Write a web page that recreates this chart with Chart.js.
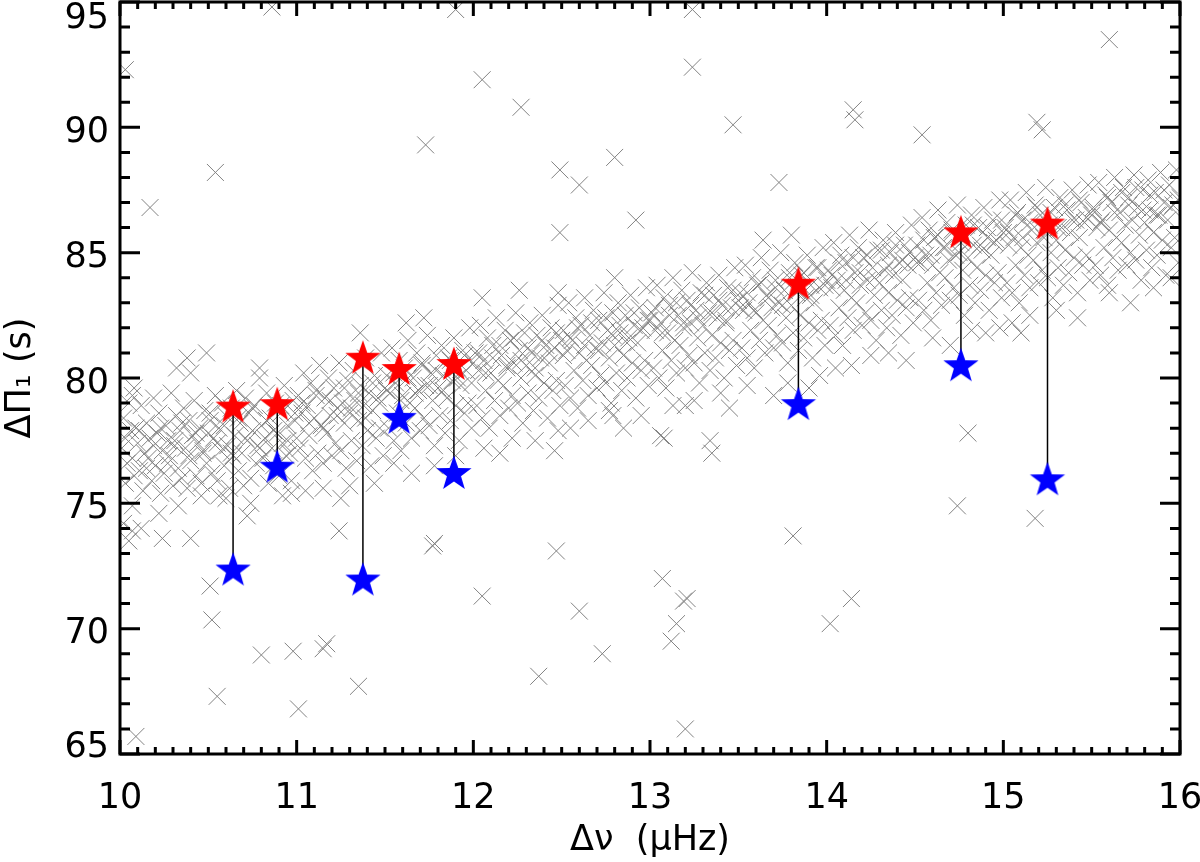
<!DOCTYPE html>
<html>
<head>
<meta charset="utf-8">
<script src="https://cdn.jsdelivr.net/npm/chart.js@4/dist/chart.umd.min.js"></script>
<style>
  body { margin: 0; background: #fff; }
</style>
</head>
<body>
<canvas id="periodChart" width="1200" height="862"></canvas>
<script>
// paired stars: same dnu, upper (red) and lower (blue) period spacing
const starDnu = [10.64, 10.89, 11.375, 11.58, 11.89, 13.84, 14.76, 15.25];
const upperPeriod = [78.9, 79.0, 80.85, 80.4, 80.6, 83.8, 85.85, 86.2];
const lowerPeriod = [72.4, 76.5, 72.0, 78.45, 76.25, 79.0, 80.55, 76.0];

const xTickLabels = [10, 11, 12, 13, 14, 15, 16];
const yTickLabels = [65, 70, 75, 80, 85, 90, 95];

// background sample, grey crosses [dnu, dPi1]
const bandLow = [
  [10.01,77.2],[10.02,78.4],[10.03,75.8],[10.04,76.6],[10.05,79.0],[10.06,77.9],[10.07,74.9],[10.08,76.1],[10.09,78.0],[10.10,77.4],
  [10.11,76.3],[10.12,78.9],[10.13,75.5],[10.14,77.0],[10.15,78.2],[10.16,76.8],[10.17,77.6],[10.18,75.9],[10.19,79.2],[10.20,76.5],
  [10.21,77.8],[10.22,78.6],[10.23,75.4],[10.24,77.1],[10.25,76.2],[10.26,78.1],[10.27,77.5],[10.28,76.9],[10.29,79.4],[10.30,75.7],
  [10.31,77.3],[10.32,78.5],[10.33,76.4],[10.34,77.9],[10.35,76.0],[10.36,78.8],[10.37,77.2],[10.38,75.6],[10.39,78.3],[10.40,76.7],
  [10.41,77.7],[10.42,79.1],[10.43,76.1],[10.44,77.4],[10.45,78.0],[10.46,75.8],[10.47,77.0],[10.48,78.7],[10.49,76.6],[10.50,77.8],
  [10.02,74.2],[10.05,73.5],[10.12,74.0],[10.08,79.6],[10.22,74.6],[10.33,74.9],[10.40,80.2],[10.46,75.3],
  [10.51,78.3],[10.52,76.2],[10.53,77.6],[10.54,79.3],[10.55,75.9],[10.56,78.0],[10.57,77.1],[10.58,79.0],[10.59,76.5],[10.60,78.5],
  [10.61,77.3],[10.62,75.6],[10.63,78.8],[10.64,76.9],[10.65,77.7],[10.66,79.5],[10.67,76.3],[10.68,78.2],[10.69,77.0],[10.70,75.7],
  [10.71,79.2],[10.72,77.5],[10.73,78.6],[10.74,76.0],[10.75,77.9],[10.76,78.9],[10.77,76.6],[10.78,77.3],[10.79,80.0],[10.80,78.1],
  [10.81,76.8],[10.82,77.6],[10.83,79.4],[10.84,75.8],[10.85,78.4],[10.86,77.2],[10.87,76.5],[10.88,79.0],[10.89,77.8],[10.90,76.1],
  [10.91,78.6],[10.92,77.4],[10.93,79.7],[10.94,76.9],[10.95,78.1],[10.96,77.0],[10.97,75.9],[10.98,79.1],[10.99,78.3],[11.00,77.6],
  [10.56,75.3],[10.60,75.2],[10.92,75.3],[10.97,75.4],
  [11.01,79.3],[11.02,77.2],[11.03,78.6],[11.04,80.2],[11.05,76.8],[11.06,78.9],[11.07,77.7],[11.08,79.8],[11.09,76.3],[11.10,78.4],
  [11.11,79.5],[11.12,77.0],[11.13,80.5],[11.14,78.1],[11.15,76.6],[11.16,79.2],[11.17,77.8],[11.18,80.0],[11.19,78.5],[11.20,76.9],
  [11.21,79.6],[11.22,77.4],[11.23,78.8],[11.24,80.6],[11.25,77.1],[11.26,79.0],[11.27,78.2],[11.28,76.4],[11.29,79.9],[11.30,78.6],
  [11.31,77.5],[11.32,80.3],[11.33,79.1],[11.34,76.7],[11.35,78.3],[11.36,79.7],[11.37,77.3],[11.38,78.9],[11.39,80.8],[11.40,77.9],
  [11.41,79.4],[11.42,76.5],[11.43,78.7],[11.44,80.1],[11.45,77.6],[11.46,79.2],[11.47,78.0],[11.48,81.0],[11.49,76.9],[11.50,79.6],
  [11.05,75.5],[11.15,75.6],[11.25,75.2],[11.44,75.8],[11.30,75.7],
  [11.51,80.1],[11.52,78.0],[11.53,79.4],[11.54,81.2],[11.55,77.5],[11.56,79.8],[11.57,78.6],[11.58,80.7],[11.59,77.1],[11.60,79.3],
  [11.61,80.4],[11.62,78.2],[11.63,81.5],[11.64,79.0],[11.65,77.6],[11.66,80.0],[11.67,78.8],[11.68,81.0],[11.69,79.5],[11.70,77.9],
  [11.71,80.6],[11.72,78.4],[11.73,79.7],[11.74,81.7],[11.75,78.1],[11.76,80.2],[11.77,79.1],[11.78,77.3],[11.79,80.9],[11.80,79.6],
  [11.81,78.5],[11.82,81.3],[11.83,80.1],[11.84,77.8],[11.85,79.2],[11.86,80.8],[11.87,78.3],[11.88,79.9],[11.89,81.6],[11.90,78.9],
  [11.91,80.4],[11.92,77.5],[11.93,79.7],[11.94,81.1],[11.95,78.6],[11.96,80.3],[11.97,79.0],[11.98,82.0],[11.99,78.0],[12.00,80.6],
  [11.55,76.6],[11.65,76.2],[11.78,76.5],[11.62,82.2],[11.90,76.9],[11.72,82.4]
];

const bandMid = [
  [12.01,81.0],[12.02,78.9],[12.03,80.3],[12.04,82.1],[12.05,78.4],[12.06,80.7],[12.07,79.5],[12.08,81.6],[12.09,78.0],[12.10,80.2],
  [12.11,81.3],[12.12,79.1],[12.13,82.4],[12.14,79.9],[12.15,78.5],[12.16,80.9],[12.17,79.7],[12.18,81.9],[12.19,80.4],[12.20,78.8],
  [12.21,81.5],[12.22,79.3],[12.23,80.6],[12.24,82.6],[12.25,79.0],[12.26,81.1],[12.27,80.0],[12.28,78.2],[12.29,81.8],[12.30,80.5],
  [12.31,79.4],[12.32,82.2],[12.33,81.0],[12.34,78.7],[12.35,80.1],[12.36,81.7],[12.37,79.2],[12.38,80.8],[12.39,82.5],[12.40,79.8],
  [12.41,81.3],[12.42,78.4],[12.43,80.6],[12.44,82.0],[12.45,79.5],[12.46,81.2],[12.47,79.9],[12.48,82.9],[12.49,78.9],[12.50,81.5],
  [12.06,77.2],[12.15,77.0],[12.22,77.6],[12.35,77.5],[12.46,77.1],[12.48,77.9],
  [12.51,81.9],[12.52,79.7],[12.53,81.1],[12.54,83.0],[12.55,79.2],[12.56,81.5],[12.57,80.3],[12.58,82.4],[12.59,78.8],[12.60,81.0],
  [12.61,82.1],[12.62,79.9],[12.63,83.2],[12.64,80.7],[12.65,79.3],[12.66,81.7],[12.67,80.5],[12.68,82.7],[12.69,81.2],[12.70,79.6],
  [12.71,82.3],[12.72,80.1],[12.73,81.4],[12.74,83.4],[12.75,79.8],[12.76,81.9],[12.77,80.8],[12.78,79.0],[12.79,82.6],[12.80,81.3],
  [12.81,80.2],[12.82,83.0],[12.83,81.8],[12.84,79.5],[12.85,80.9],[12.86,82.5],[12.87,80.0],[12.88,81.6],[12.89,83.3],[12.90,80.6],
  [12.91,82.1],[12.92,79.2],[12.93,81.4],[12.94,82.8],[12.95,80.3],[12.96,82.0],[12.97,80.7],[12.98,83.6],[12.99,79.7],[13.00,82.3],
  [12.55,78.0],[12.65,78.3],[12.77,78.7],[12.85,78.0],[12.95,78.5],[12.79,78.5],
  [13.01,82.6],[13.02,80.4],[13.03,81.9],[13.04,83.7],[13.05,80.0],[13.06,82.2],[13.07,81.1],[13.08,83.2],[13.09,79.6],[13.10,81.8],
  [13.11,82.9],[13.12,80.7],[13.13,84.0],[13.14,81.5],[13.15,80.2],[13.16,82.5],[13.17,81.3],[13.18,83.5],[13.19,82.0],[13.20,80.4],
  [13.21,83.1],[13.22,80.9],[13.23,82.2],[13.24,84.2],[13.25,80.6],[13.26,82.7],[13.27,81.6],[13.28,79.8],[13.29,83.4],[13.30,82.1],
  [13.31,81.0],[13.32,83.8],[13.33,82.6],[13.34,80.3],[13.35,81.7],[13.36,83.3],[13.37,80.8],[13.38,82.4],[13.39,84.1],[13.40,81.4],
  [13.41,82.9],[13.42,80.0],[13.43,82.2],[13.44,83.6],[13.45,81.1],[13.46,82.8],[13.47,81.5],[13.48,84.4],[13.49,80.5],[13.50,83.1],
  [13.06,77.7],[13.08,77.6],[13.34,77.5],[13.35,77.0],[13.13,78.9],[13.20,78.9],[13.40,79.4],[13.45,78.8],[13.25,79.1],
  [13.51,83.4],[13.52,81.2],[13.53,82.7],[13.54,84.5],[13.55,80.8],[13.56,83.0],[13.57,81.9],[13.58,84.0],[13.59,80.4],[13.60,82.6],
  [13.61,83.7],[13.62,81.5],[13.63,84.8],[13.64,82.3],[13.65,81.0],[13.66,83.3],[13.67,82.1],[13.68,84.3],[13.69,82.8],[13.70,81.2],
  [13.71,83.9],[13.72,81.7],[13.73,83.0],[13.74,85.0],[13.75,81.4],[13.76,83.5],[13.77,82.4],[13.78,80.6],[13.79,84.2],[13.80,82.9],
  [13.81,81.8],[13.82,84.6],[13.83,83.4],[13.84,81.1],[13.85,82.5],[13.86,84.1],[13.87,81.6],[13.88,83.2],[13.89,84.9],[13.90,82.2],
  [13.91,83.7],[13.92,80.8],[13.93,83.0],[13.94,84.4],[13.95,81.9],[13.96,83.6],[13.97,82.3],[13.98,85.2],[13.99,81.3],[14.00,83.9],
  [13.55,79.7],[13.70,79.3],[13.78,79.8],[13.90,79.6],[13.96,80.1],[13.64,85.5],[13.80,85.7]
];

const bandHigh = [
  [14.01,84.3],[14.02,82.1],[14.03,83.6],[14.04,85.4],[14.05,81.7],[14.06,83.9],[14.07,82.8],[14.08,84.9],[14.09,81.3],[14.10,83.5],
  [14.11,84.6],[14.12,82.4],[14.13,85.7],[14.14,83.2],[14.15,81.9],[14.16,84.2],[14.17,83.0],[14.18,85.2],[14.19,83.7],[14.20,82.1],
  [14.21,84.8],[14.22,82.6],[14.23,83.9],[14.24,85.9],[14.25,82.3],[14.26,84.4],[14.27,83.3],[14.28,81.5],[14.29,85.1],[14.30,83.8],
  [14.31,82.7],[14.32,85.5],[14.33,84.3],[14.34,82.0],[14.35,83.4],[14.36,85.0],[14.37,82.5],[14.38,84.1],[14.39,85.8],[14.40,83.1],
  [14.41,84.6],[14.42,81.7],[14.43,83.9],[14.44,85.3],[14.45,82.8],[14.46,84.5],[14.47,83.2],[14.48,86.1],[14.49,82.2],[14.50,84.8],
  [14.05,80.4],[14.14,80.5],[14.25,80.9],[14.35,81.0],[14.45,80.7],
  [14.51,85.3],[14.52,83.1],[14.53,84.6],[14.54,86.4],[14.55,82.7],[14.56,84.9],[14.57,83.8],[14.58,85.9],[14.59,82.3],[14.60,84.5],
  [14.61,85.6],[14.62,83.4],[14.63,86.7],[14.64,84.2],[14.65,82.9],[14.66,85.2],[14.67,84.0],[14.68,86.2],[14.69,84.7],[14.70,83.1],
  [14.71,85.8],[14.72,83.6],[14.73,84.9],[14.74,86.9],[14.75,83.3],[14.76,85.4],[14.77,84.3],[14.78,82.5],[14.79,86.1],[14.80,84.8],
  [14.81,83.7],[14.82,86.5],[14.83,85.3],[14.84,83.0],[14.85,84.4],[14.86,86.0],[14.87,83.5],[14.88,85.1],[14.89,86.8],[14.90,84.1],
  [14.91,85.6],[14.92,82.7],[14.93,84.9],[14.94,86.3],[14.95,83.8],[14.96,85.5],[14.97,84.2],[14.98,87.1],[14.99,83.2],[15.00,85.8],
  [14.60,81.6],[14.70,81.3],[14.82,81.9],[14.90,81.8],[14.98,82.0],
  [15.01,86.0],[15.02,83.8],[15.03,85.3],[15.04,87.1],[15.05,83.4],[15.06,85.6],[15.07,84.5],[15.08,86.6],[15.09,83.0],[15.10,85.2],
  [15.11,86.3],[15.12,84.1],[15.13,87.4],[15.14,84.9],[15.15,83.6],[15.16,85.9],[15.17,84.7],[15.18,86.9],[15.19,85.4],[15.20,83.8],
  [15.21,86.5],[15.22,84.3],[15.23,85.6],[15.24,87.6],[15.25,84.0],[15.26,86.1],[15.27,85.0],[15.28,83.2],[15.29,86.8],[15.30,85.5],
  [15.31,84.4],[15.32,87.2],[15.33,86.0],[15.34,83.7],[15.35,85.1],[15.36,86.7],[15.37,84.2],[15.38,85.8],[15.39,87.5],[15.40,84.8],
  [15.41,86.3],[15.42,83.4],[15.43,85.6],[15.44,87.0],[15.45,84.5],[15.46,86.2],[15.47,84.9],[15.48,87.7],[15.49,83.9],[15.50,86.5],
  [15.05,82.2],[15.15,82.5],[15.30,82.7],[15.42,82.4],[15.10,81.8],
  [15.51,86.7],[15.52,84.5],[15.53,86.0],[15.54,87.8],[15.55,84.1],[15.56,86.3],[15.57,85.2],[15.58,87.3],[15.59,83.7],[15.60,85.9],
  [15.61,87.0],[15.62,84.8],[15.63,88.0],[15.64,85.6],[15.65,84.3],[15.66,86.6],[15.67,85.4],[15.68,87.6],[15.69,86.1],[15.70,84.5],
  [15.71,87.2],[15.72,85.0],[15.73,86.3],[15.74,88.1],[15.75,84.7],[15.76,86.8],[15.77,85.7],[15.78,83.9],[15.79,87.5],[15.80,86.2],
  [15.81,85.1],[15.82,87.9],[15.83,86.7],[15.84,84.4],[15.85,85.8],[15.86,87.4],[15.87,84.9],[15.88,86.5],[15.89,88.2],[15.90,85.5],
  [15.91,87.0],[15.92,84.1],[15.93,86.3],[15.94,87.7],[15.95,85.2],[15.96,86.9],[15.97,85.6],[15.98,88.3],[15.99,84.6],[16.00,87.2],
  [15.72,83.0],[15.60,83.4],[15.85,83.6],[15.95,84.0]
];

// the densest ridge of the band
const bandCore = [
  [10.03,77.6],[10.07,76.8],[10.11,77.9],[10.15,76.4],[10.19,77.3],[10.23,78.0],[10.27,76.6],[10.31,77.5],[10.35,78.2],[10.39,76.9],
  [10.43,77.8],[10.47,77.1],[10.51,78.6],[10.55,77.4],[10.59,78.1],[10.63,77.0],[10.67,78.4],[10.71,77.6],[10.75,78.8],[10.79,77.2],
  [10.83,78.3],[10.87,77.9],[10.91,78.9],[10.95,77.5],[10.99,78.6],[11.03,79.0],[11.07,78.2],[11.11,79.3],[11.15,78.0],[11.19,79.1],
  [11.23,78.5],[11.27,79.6],[11.31,78.8],[11.35,79.4],[11.39,78.4],[11.43,79.8],[11.47,79.0],[11.51,79.5],[11.55,80.2],[11.59,79.1],
  [11.63,80.0],[11.67,79.4],[11.71,80.5],[11.75,79.7],[11.79,80.3],[11.83,79.5],[11.87,80.7],[11.91,80.0],[11.95,80.9],[11.99,79.8],
  [12.03,81.0],[12.07,80.2],[12.11,80.8],[12.15,81.3],[12.19,80.5],[12.23,81.6],[12.27,80.7],[12.31,81.2],[12.35,80.4],[12.39,81.5],
  [12.43,81.0],[12.47,81.8],[12.51,80.9],[12.55,81.6],[12.59,82.0],[12.63,81.3],[12.67,82.2],[12.71,81.1],[12.75,82.4],[12.79,81.7],
  [12.83,82.1],[12.87,81.4],[12.91,82.6],[12.95,81.9],[12.99,82.3],[13.03,82.8],[13.07,81.8],[13.11,82.5],[13.15,83.0],[13.19,82.2],
  [13.23,82.9],[13.27,82.4],[13.31,83.3],[13.35,82.6],[13.39,83.1],[13.43,82.3],[13.47,83.5],[13.51,82.8],[13.55,83.4],[13.59,82.7],
  [13.63,83.8],[13.67,83.2],[13.71,83.6],[13.75,82.9],[13.79,84.0],[13.83,83.5],[13.87,84.2],[13.91,83.3],[13.95,84.4],[13.99,83.7],
  [14.03,84.1],[14.07,84.6],[14.11,83.9],[14.15,84.8],[14.19,84.2],[14.23,84.9],[14.27,84.0],[14.31,85.1],[14.35,84.5],[14.39,85.3],
  [14.43,84.7],[14.47,85.0],[14.51,84.6],[14.55,85.5],[14.59,84.9],[14.63,85.7],[14.67,85.2],[14.71,85.9],[14.75,85.0],[14.79,85.6],
  [14.83,86.1],[14.87,85.3],[14.91,86.0],[14.95,85.4],[14.99,86.3],[15.03,85.8],[15.07,86.5],[15.11,85.6],[15.15,86.2],[15.19,86.8],
  [15.23,85.9],[15.27,86.6],[15.31,86.0],[15.35,86.9],[15.39,86.3],[15.43,87.1],[15.47,86.4],[15.51,86.8],[15.55,86.2],[15.59,87.2],
  [15.63,86.6],[15.67,87.4],[15.71,86.9],[15.75,87.6],[15.79,86.7],[15.83,87.3],[15.87,86.5],[15.91,87.5],[15.95,86.8],[15.99,87.1]
];

const outliers = [
  [10.03,92.3],[10.17,86.8],[10.54,88.2],[10.86,94.8],[11.90,94.7],[12.05,91.9],[12.27,90.8],[11.73,89.3],
  [12.49,88.3],[12.60,87.7],[12.80,88.8],[12.92,86.3],[12.49,85.8],[13.24,94.7],[13.24,92.4],[13.47,90.1],
  [13.73,87.8],[14.15,90.7],[14.16,90.3],[14.54,89.7],[15.19,90.2],[15.22,89.9],[15.60,93.5],
  [12.05,83.2],[12.26,83.5],[12.48,83.4],[12.80,84.0],
  [10.32,80.4],[10.38,80.8],[10.49,81.0],[11.36,81.8],[10.79,80.4],[10.07,79.3],
  [10.09,65.7],[10.51,71.7],[10.52,70.35],[10.55,67.3],[10.80,68.95],[10.98,69.1],[11.01,66.8],
  [11.15,69.2],[11.17,69.4],[11.35,67.7],[10.72,74.5],[10.74,75.0],[10.07,73.9],[10.24,73.6],
  [10.40,73.6],[11.24,73.9],[11.77,73.3],[11.78,73.4],[12.47,73.1],[12.05,71.3],[12.60,70.7],
  [12.73,69.0],[12.37,68.1],[13.07,72.0],[13.19,71.1],[13.21,71.2],[13.15,70.2],[13.12,69.5],
  [13.20,66.0],[13.81,73.7],[14.02,70.2],[14.14,71.2],[14.74,74.9],[14.80,77.8],[15.18,74.4]
];

function toXY(list) {
  return list.map(function (p) { return { x: p[0], y: p[1] }; });
}

function makeStar(color, size) {
  const c = document.createElement("canvas");
  c.width = size;
  c.height = size;
  const g = c.getContext("2d");
  const R = size / 2 - 0.5;
  const r = R * 0.4;
  g.beginPath();
  for (let i = 0; i < 10; i++) {
    const rad = i % 2 === 0 ? R : r;
    const a = -Math.PI / 2 + (i * Math.PI) / 5;
    const px = size / 2 + rad * Math.cos(a);
    const py = size / 2 + 2 + rad * Math.sin(a);
    if (i === 0) g.moveTo(px, py); else g.lineTo(px, py);
  }
  g.closePath();
  g.fillStyle = color;
  g.fill();
  return c;
}

const redStar = makeStar("#ff0000", 38);
const blueStar = makeStar("#0000ff", 38);

const connectors = [];
starDnu.forEach(function (x, i) {
  connectors.push({ x: x, y: upperPeriod[i] });
  connectors.push({ x: x, y: lowerPeriod[i] });
  connectors.push({ x: x, y: null });
});

const labelFont = "35px 'DejaVu Sans', sans-serif";

// inward ticks on all four sides, the frame and the tick labels, IDL style
const frameTicks = {
  id: "frameTicks",
  afterDraw(chart) {
    const ctx = chart.ctx;
    const a = chart.chartArea;
    const xs = chart.scales.x;
    const ys = chart.scales.y;
    ctx.save();
    ctx.strokeStyle = "#000";
    ctx.lineWidth = 3;
    ctx.lineCap = "butt";
    ctx.beginPath();
    for (let k = 0; k <= 60; k++) {
      const px = xs.getPixelForValue(10 + k / 10);
      const len = k % 10 === 0 ? 14 : 7;
      ctx.moveTo(px, a.bottom);
      ctx.lineTo(px, a.bottom - len);
      ctx.moveTo(px, a.top);
      ctx.lineTo(px, a.top + len);
    }
    for (let k = 0; k <= 30; k++) {
      const py = ys.getPixelForValue(65 + k);
      const len = k % 5 === 0 ? 20 : 10;
      ctx.moveTo(a.left, py);
      ctx.lineTo(a.left + len, py);
      ctx.moveTo(a.right, py);
      ctx.lineTo(a.right - len, py);
    }
    ctx.stroke();
    ctx.strokeRect(a.left, a.top, a.right - a.left, a.bottom - a.top);

    ctx.fillStyle = "#000";
    ctx.font = labelFont;
    ctx.textBaseline = "alphabetic";
    ctx.textAlign = "center";
    xTickLabels.forEach(function (v) {
      ctx.fillText(String(v), xs.getPixelForValue(v), a.bottom + 41 + 12.8);
    });
    ctx.textAlign = "right";
    yTickLabels.forEach(function (v) {
      let cy = ys.getPixelForValue(v) + 2;
      cy = Math.min(Math.max(cy, a.top + 13), a.bottom - 10);
      ctx.fillText(String(v), a.left - 11, cy + 12.8);
    });
    ctx.restore();
  },
};

const axisFont = { family: "'DejaVu Sans', sans-serif", size: 35 };

const config = {
  type: "scatter",
  data: {
    datasets: [
      {
        label: "blue",
        data: toXY(starDnu.map(function (x, i) { return [x, lowerPeriod[i]]; })),
        pointStyle: blueStar,
        pointRadius: 19,
        order: 0,
      },
      {
        label: "red",
        data: toXY(starDnu.map(function (x, i) { return [x, upperPeriod[i]]; })),
        pointStyle: redStar,
        pointRadius: 19,
        order: 1,
      },
      {
        label: "links",
        data: connectors,
        showLine: true,
        spanGaps: false,
        borderColor: "#000",
        borderWidth: 1.5,
        pointRadius: 0,
        order: 2,
      },
      {
        label: "sample",
        data: toXY(bandLow.concat(bandMid, bandHigh, bandCore, outliers)),
        pointStyle: "crossRot",
        pointRadius: 12,
        borderColor: "rgb(130,130,130)",
        backgroundColor: "rgb(130,130,130)",
        borderWidth: 1,
        clip: 0,
        order: 3,
      },
    ],
  },
  options: {
    responsive: false,
    animation: false,
    layout: { autoPadding: false, padding: { top: 2, right: 20, left: 0, bottom: 0 } },
    plugins: {
      legend: { display: false },
      tooltip: { enabled: false },
    },
    scales: {
      x: {
        type: "linear",
        min: 10,
        max: 16,
        grid: { display: false, drawTicks: false },
        border: { display: false },
        afterFit(scale) {
          scale.height = 108;
        },
        ticks: { display: false },
        title: {
          display: true,
          text: "Δν  (μHz)",
          color: "#000",
          font: axisFont,
          padding: 0,
        },
      },
      y: {
        type: "linear",
        min: 65,
        max: 95,
        grid: { display: false, drawTicks: false },
        border: { display: false },
        afterFit(scale) {
          scale.width = 120;
        },
        ticks: { display: false },
        title: {
          display: true,
          text: "ΔΠ₁ (s)",
          color: "#000",
          font: axisFont,
          padding: 0,
        },
      },
    },
  },
  plugins: [frameTicks],
};

new Chart(document.getElementById("periodChart"), config);
</script>
</body>
</html>
